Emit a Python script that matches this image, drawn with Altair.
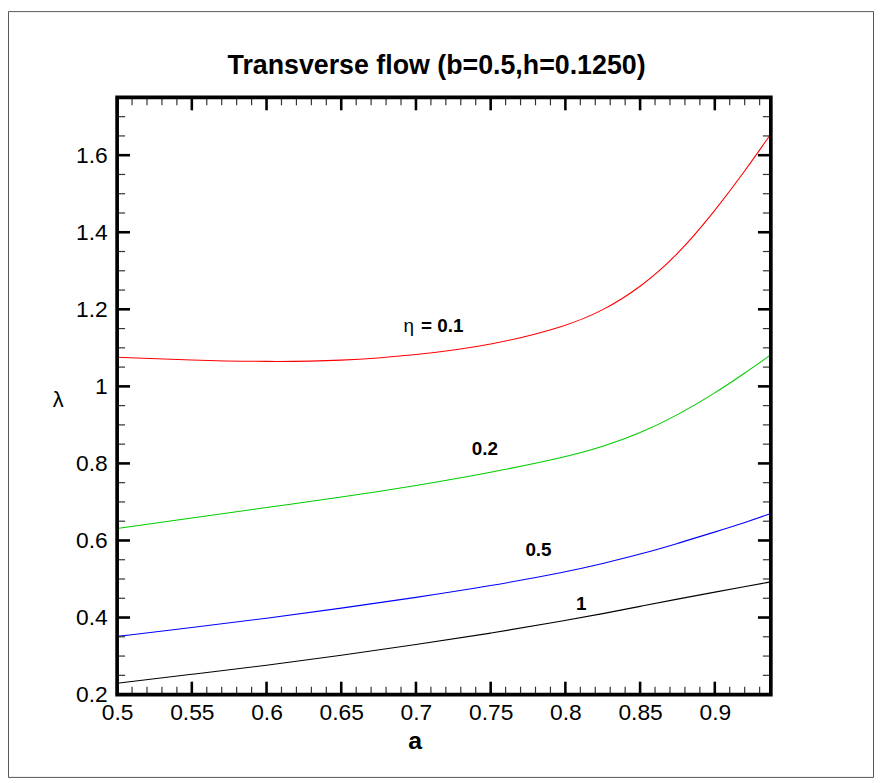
import altair as alt
import pandas as pd

# ---------------- data ----------------
a_vals = [0.5, 0.55, 0.6, 0.65, 0.7, 0.75, 0.8, 0.825, 0.85, 0.875, 0.9, 0.92, 0.9375]
lam_eta_01 = [1.0757, 1.068, 1.0637, 1.066, 1.081, 1.106, 1.155, 1.196, 1.256, 1.340, 1.455, 1.558, 1.655]
lam_eta_02 = [0.631, 0.658, 0.686, 0.712, 0.742, 0.776, 0.816, 0.843, 0.878, 0.925, 0.982, 1.034, 1.082]
lam_eta_05 = [0.351, 0.374, 0.398, 0.424, 0.452, 0.482, 0.518, 0.540, 0.564, 0.592, 0.622, 0.646, 0.670]
lam_eta_1 = [0.2295, 0.2527, 0.2758, 0.3015, 0.3297, 0.359, 0.392, 0.410, 0.429, 0.448, 0.466, 0.480, 0.4926]

etas = ["0.1", "0.2", "0.5", "1"]
colors = ["#ff0000", "#00cc00", "#0000ff", "#000000"]

x_major = [0.5, 0.55, 0.6, 0.65, 0.7, 0.75, 0.8, 0.85, 0.9]
y_major = [0.2, 0.4, 0.6, 0.8, 1, 1.2, 1.4, 1.6]
x_minor = [round(0.5 + 0.01 * i, 2) for i in range(1, 44) if i % 5 != 0]
y_minor = [round(0.2 + 0.05 * i, 2) for i in range(1, 31) if i % 4 != 0]

label_text = ["0.2", "0.5", "1"]
label_a = [0.7461, 0.782, 0.8106]
label_lam = [0.838, 0.576, 0.4356]

title_text = "Transverse flow (b=0.5,h=0.1250)"

# ---------------- layout ----------------
W, H = 659, 602
FONT = "Liberation Sans"
xs = alt.Scale(domain=[0.5, 0.9375], nice=False, zero=False)
ys = alt.Scale(domain=[0.2, 1.75], nice=False, zero=False)

x_axis = alt.Axis(
    values=x_major, labelExpr="'' + datum.value", ticks=False, tickSize=0, domain=False,
    grid=False, labelFont=FONT, labelFontSize=23, labelColor="black",
    labelBaseline="alphabetic", labelPadding=25, labelFlush=False, labelOverlap=False,
    title="a", titleFont=FONT, titleFontSize=25, titleFontWeight="bold", titleColor="black",
    titleX=300, titleY=46, titleBaseline="middle", titleAlign="center")
y_axis = alt.Axis(
    values=y_major, labelExpr="'' + datum.value", ticks=False, tickSize=0, domain=False,
    grid=False, labelFont=FONT, labelFontSize=23, labelColor="black",
    labelBaseline="middle", labelPadding=10, labelFlush=False, labelOverlap=False,
    title="λ", titleFont=FONT, titleFontSize=22, titleFontWeight="normal", titleColor="black",
    titleAngle=0, titleX=-60, titleY=305, titleBaseline="middle", titleAlign="center")


def X(field):
    return alt.X(field, scale=xs, axis=x_axis, title="a")


def Y(field):
    return alt.Y(field, scale=ys, axis=y_axis, title="λ")


rows = []
for eta, lam in zip(etas, [lam_eta_01, lam_eta_02, lam_eta_05, lam_eta_1]):
    for a, l in zip(a_vals, lam):
        rows.append({"a": a, "lam": l, "eta": eta})
df = pd.DataFrame(rows)

curves = alt.Chart(df).mark_line(strokeWidth=1.1, interpolate="basis", clip=True).encode(
    x=X("a:Q"),
    y=Y("lam:Q"),
    color=alt.Color("eta:N", scale=alt.Scale(domain=etas, range=colors), legend=None),
)


def xticks(vals, length, width, color, top):
    d = pd.DataFrame({"a": vals})
    y0 = 0 if top else H
    y1 = length if top else H - length
    return alt.Chart(d).mark_rule(strokeWidth=width, color=color).encode(
        x=X("a:Q"), y=alt.value(y0), y2=alt.value(y1))


def yticks(vals, length, width, color, right):
    d = pd.DataFrame({"lam": vals})
    x0 = W if right else 0
    x1 = W - length if right else length
    return alt.Chart(d).mark_rule(strokeWidth=width, color=color).encode(
        y=Y("lam:Q"), x=alt.value(x0), x2=alt.value(x1))


ticks = [
    xticks(x_major, 13, 2.6, "black", False), xticks(x_major, 13, 2.6, "black", True),
    xticks(x_minor, 8, 1.2, "#333333", False), xticks(x_minor, 8, 1.2, "#333333", True),
    yticks(y_major, 13, 2.6, "black", False), yticks(y_major, 13, 2.6, "black", True),
    yticks(y_minor, 8, 1.2, "#333333", False), yticks(y_minor, 8, 1.2, "#333333", True),
]

lab_df = pd.DataFrame({"a": label_a, "lam": label_lam, "txt": label_text})
labels = alt.Chart(lab_df).mark_text(font=FONT, fontSize=19, fontWeight="bold", color="black").encode(
    x=X("a:Q"), y=Y("lam:Q"), text="txt:N")

eta_sym = alt.Chart(pd.DataFrame({"a": [0.6952], "lam": [1.156], "txt": ["η"]})).mark_text(
    font=FONT, fontSize=19, color="black").encode(x=X("a:Q"), y=Y("lam:Q"), text="txt:N")
eta_val = alt.Chart(pd.DataFrame({"a": [0.7176], "lam": [1.156], "txt": ["= 0.1"]})).mark_text(
    font=FONT, fontSize=19, fontWeight="bold", color="black").encode(
    x=X("a:Q"), y=Y("lam:Q"), text="txt:N")

one = pd.DataFrame({"t": [title_text]})
title = alt.Chart(one).mark_text(font=FONT, fontSize=27, fontWeight="bold", color="black",
                                  baseline="alphabetic").encode(
    x=alt.value(322), y=alt.value(-24), text="t:N")

border = alt.Chart(one).mark_rect(fillOpacity=0, stroke="black", strokeWidth=3.7).encode(
    x=alt.value(0), x2=alt.value(W), y=alt.value(0), y2=alt.value(H))

frame = alt.Chart(one).mark_rect(fillOpacity=0, stroke="#555555", strokeWidth=1).encode(
    x=alt.value(-109.5), x2=alt.value(762.5), y=alt.value(-86.5), y2=alt.value(685.5))

chart = alt.layer(curves, frame, *ticks, labels, eta_sym, eta_val, title, border).properties(
    width=W, height=H,
    padding={"left": 110, "top": 87, "right": 104, "bottom": 86},
    autosize=alt.AutoSizeParams(type="none"),
).configure_view(stroke=None).configure(background="white")

chart.save("out.html", embed_options={"renderer": "svg", "actions": False})
